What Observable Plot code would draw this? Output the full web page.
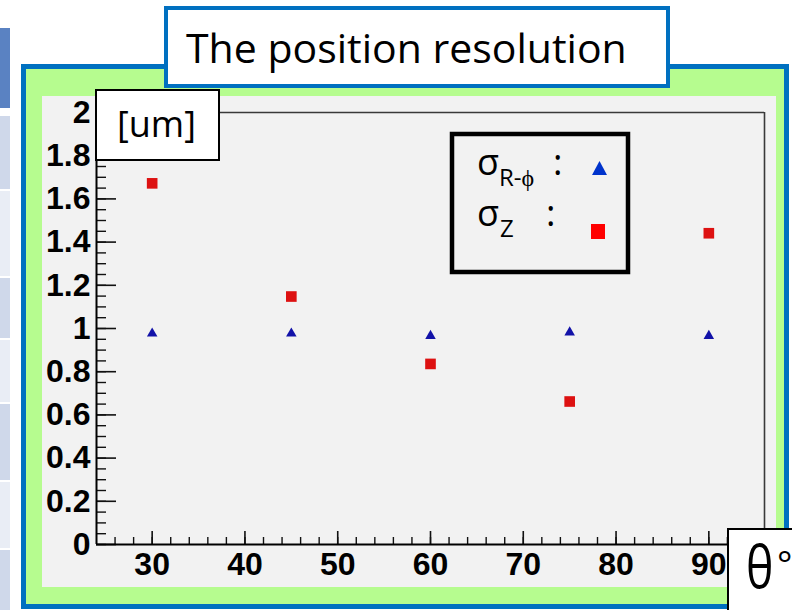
<!DOCTYPE html>
<html>
<head>
<meta charset="utf-8">
<script src="https://cdn.jsdelivr.net/npm/d3@7"></script>
<script src="https://cdn.jsdelivr.net/npm/@observablehq/plot@0.6"></script>
<style>
  html, body { margin: 0; padding: 0; background: #fff; }
  #wrap { position: relative; width: 792px; height: 610px; overflow: hidden; }
  .abs { position: absolute; box-sizing: border-box; }
  #chart { position: absolute; left: 0; top: 0; }
  #chart svg { background: transparent; overflow: visible; }
  #overlay { position: absolute; left: 0; top: 0; }
</style>
</head>
<body>
<div id="wrap">
  <!-- slide remnants on the left -->
  <div class="abs" style="left:0;top:28px;width:10px;height:80px;background:#5a82c2"></div>
  <div class="abs" style="left:0;top:116px;width:10px;height:73px;background:#cfd8ea"></div>
  <div class="abs" style="left:0;top:191px;width:10px;height:85px;background:#e9edf5"></div>
  <div class="abs" style="left:0;top:278px;width:10px;height:60px;background:#cfd8ea"></div>
  <div class="abs" style="left:0;top:340px;width:10px;height:62px;background:#e9edf5"></div>
  <div class="abs" style="left:0;top:404px;width:10px;height:76px;background:#cfd8ea"></div>
  <div class="abs" style="left:0;top:482px;width:10px;height:66px;background:#e9edf5"></div>
  <div class="abs" style="left:0;top:550px;width:10px;height:60px;background:#cfd8ea"></div>
  <!-- green canvas with blue frame -->
  <div class="abs" style="left:21px;top:64px;width:768px;height:545px;border:5px solid #0070c0;background:#b6fc8f"></div>
  <!-- grey pad -->
  <div class="abs" style="left:42px;top:96px;width:734px;height:491px;background:#f2f2f2"></div>
  <div id="chart"></div>
  <svg id="overlay" width="792" height="610" xmlns="http://www.w3.org/2000/svg">
    <!-- title box -->
    <rect x="166" y="8" width="502" height="78" fill="#fff" stroke="#0070c0" stroke-width="4"/>
    <text x="186" y="63" font-family="Open Sans" font-size="41" fill="#000">The position resolution</text>
    <!-- unit box -->
    <rect x="96" y="90" width="123" height="70" fill="#fff" stroke="#000" stroke-width="2"/>
    <text x="117" y="137" font-family="Open Sans" font-size="36" fill="#000">[um]</text>
    <!-- legend -->
    <rect x="452" y="134" width="176" height="138" fill="#f2f2f2" stroke="#000" stroke-width="4.5"/>
    <text x="477" y="175" font-family="Open Sans" font-size="36" fill="#000">σ</text>
    <text x="499" y="186" font-family="Open Sans" font-size="24" fill="#000">R-ϕ</text>
    <text x="553" y="175" font-family="Open Sans" font-size="36" fill="#000">:</text>
    <path d="M592,175 L607,175 L599.5,161 Z" fill="#0033cc"/>
    <text x="477" y="226" font-family="Open Sans" font-size="36" fill="#000">σ</text>
    <text x="500" y="237" font-family="Open Sans" font-size="24" fill="#000">Z</text>
    <text x="546" y="226" font-family="Open Sans" font-size="36" fill="#000">:</text>
    <rect x="591" y="224" width="14" height="15" fill="#ff0000"/>
    <!-- theta box -->
    <rect x="728" y="529" width="80" height="90" fill="#fff" stroke="#000" stroke-width="2"/>
    <text transform="translate(746,588) scale(0.8,1)" font-family="Open Sans" font-size="58" fill="#000">θ</text>
    <text x="777" y="577" font-family="Open Sans" font-size="36" fill="#000">°</text>
  </svg>
</div>
<script>
// ---- data ----
const thetaDeg   = [30, 45, 60, 75, 90];
const sigmaRPhi  = [0.977, 0.977, 0.966, 0.982, 0.966];   // blue triangles
const sigmaZ     = [1.672, 1.148, 0.836, 0.662, 1.441];   // red squares

const xTickValues = [30, 40, 50, 60, 70, 80, 90];
const xTickLabels = ["30", "40", "50", "60", "70", "80", "90"];
const yTickValues = [0, 0.2, 0.4, 0.6, 0.8, 1, 1.2, 1.4, 1.6, 1.8, 2];
const yTickLabels = ["0", "0.2", "0.4", "0.6", "0.8", "1", "1.2", "1.4", "1.6", "1.8", "2"];

const xMinor = d3.range(26, 96, 2);
const yMinor = d3.range(0, 2.0001, 0.05);

const rphiData = thetaDeg.map((t, i) => ({theta: t, v: sigmaRPhi[i]}));
const zData    = thetaDeg.map((t, i) => ({theta: t, v: sigmaZ[i]}));

const chart = Plot.plot({
  width: 792,
  height: 610,
  marginLeft: 96,
  marginRight: 28,
  marginTop: 112,
  marginBottom: 66,
  x: {domain: [24, 96]},
  y: {domain: [0, 2]},
  style: {
    background: "transparent",
    fontFamily: "Liberation Sans, Arial, sans-serif",
    fontSize: "32px",
    fontWeight: "bold",
    color: "#000"
  },
  marks: [
    // frame top / right
    Plot.ruleY([2], {stroke: "#3a3a3a", strokeWidth: 1.6}),
    Plot.ruleX([96], {stroke: "#3a3a3a", strokeWidth: 1.6}),
    // y axis ticks (inside)
    Plot.axisY(yMinor, {anchor: "left", tickSize: -10, text: null, stroke: "#111", strokeWidth: 1.4, label: null}),
    Plot.axisY(yTickValues, {anchor: "left", tickSize: -20, text: null, stroke: "#111", strokeWidth: 1.6, label: null}),
    Plot.axisY(yTickValues, {anchor: "left", tickSize: 0, tickPadding: 6, tickFormat: (d, i) => yTickLabels[i], fill: "#000", label: null}),
    // x axis ticks (inside)
    Plot.axisX(xMinor, {anchor: "bottom", tickSize: -7, text: null, stroke: "#111", strokeWidth: 1.4, label: null}),
    Plot.axisX(xTickValues, {anchor: "bottom", tickSize: -13, text: null, stroke: "#111", strokeWidth: 1.6, label: null}),
    Plot.axisX(xTickValues, {anchor: "bottom", tickSize: 0, tickPadding: 8, tickFormat: (d, i) => xTickLabels[i], fill: "#000", label: null}),
    // axis lines
    Plot.ruleX([24], {stroke: "#000", strokeWidth: 2}),
    Plot.ruleY([0], {stroke: "#000", strokeWidth: 2}),
    // data
    Plot.dot(rphiData, {x: "theta", y: "v", symbol: "triangle", r: 3.9, fill: "#1212a8"}),
    Plot.dot(zData, {x: "theta", y: "v", symbol: "square", r: 6, fill: "#dd1111"})
  ]
});
document.getElementById("chart").appendChild(chart);
</script>
</body>
</html>
